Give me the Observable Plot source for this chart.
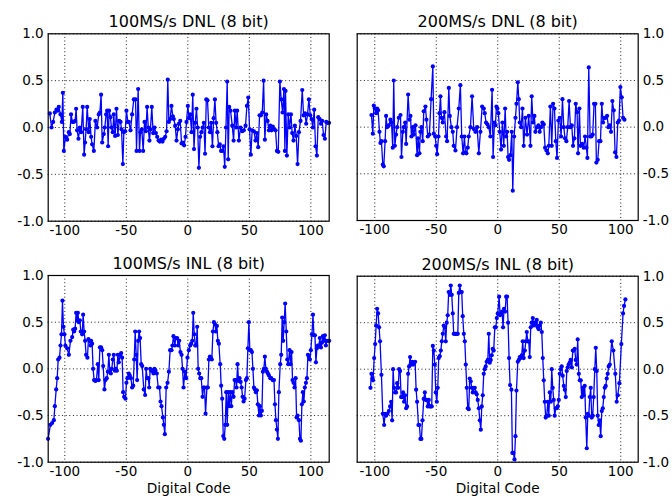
<!DOCTYPE html>
<html><head><meta charset="utf-8">
<script src="https://cdn.jsdelivr.net/npm/d3@7"></script>
<script src="https://cdn.jsdelivr.net/npm/@observablehq/plot@0.6"></script>
<style>
html,body{margin:0;padding:0;background:#fff;}
#chart{position:relative;width:672px;height:496px;overflow:hidden;background:#fff;}
#chart > svg{position:absolute;}
</style></head><body><div id="chart"></div>
<script>
const xTicks = [-100, -50, 0, 50, 100];
const yTicks = [-1, -0.5, 0, 0.5, 1];
const titles = ["100MS/s DNL (8 bit)", "200MS/s DNL (8 bit)", "100MS/s INL (8 bit)", "200MS/s INL (8 bit)"];
const xLabel = "Digital Code";

// [digital code, LSB]
const dnl100 = [[-112.2,0.15],[-110.8,0.0],[-109.5,0.06],[-108.1,0.16],[-106.8,0.19],[-105.7,0.18],[-104.9,0.22],[-103.5,0.14],[-102.4,0.06],[-101.6,0.37],[-100.8,-0.25],[-99.5,-0.1],[-98.1,-0.13],[-96.7,-0.05],[-95.9,-0.07],[-94.9,0.14],[-93.8,0.06],[-92.7,0.06],[-91.6,0.07],[-90.8,0.2],[-90,-0.03],[-88.9,-0.12],[-87.8,0],[-86.7,-0.05],[-85.4,0.22],[-84.3,-0.29],[-83.5,-0.16],[-82.7,-0.02],[-81.8,0.22],[-80.5,-0.05],[-79.7,0.09],[-78.6,-0.1],[-77.8,-0.18],[-76.4,-0.25],[-75.1,0.07],[-73.7,0],[-72.4,0.14],[-71.5,0.16],[-70.5,0.35],[-69.6,-0.16],[-68.3,-0.07],[-67.5,0],[-66.4,0.14],[-65.6,0.18],[-64.8,-0.2],[-64,0.18],[-62.9,0.11],[-62.1,0],[-61,-0.05],[-60.2,0.14],[-59.1,-0.09],[-58,0.2],[-56.9,-0.08],[-55.8,0.07],[-54.7,0.06],[-53.9,-0.02],[-52.8,-0.39],[-52,-0.05],[-50.9,-0.04],[-49.9,0.18],[-48.8,0.06],[-48,0.06],[-46.6,-0.03],[-45.3,0.14],[-43.9,0.3],[-42.5,0.3],[-41.7,-0.25],[-40.4,0.41],[-39.3,-0.25],[-38.5,-0.05],[-37.4,-0.02],[-36.3,-0.25],[-35.2,0.06],[-34.1,-0.04],[-33.1,0.22],[-32.2,0],[-31.2,-0.14],[-30.4,-0.02],[-29.3,0.22],[-28.2,-0.06],[-27.1,0],[-26,-0.06],[-24.9,-0.1],[-23.8,-0.14],[-22.8,-0.15],[-21.7,-0.13],[-20.6,-0.15],[-19.5,-0.12],[-18.4,-0.1],[-17.3,-0.04],[-16.3,0.51],[-15.4,0.06],[-14.4,0.09],[-13.3,0.23],[-12.2,0.12],[-11.4,0.09],[-10.3,0.02],[-9.2,-0.14],[-8.1,-0.02],[-7.3,0.04],[-6.2,0.07],[-5.1,-0.17],[-4.1,-0.16],[-3,-0.19],[-1.9,-0.1],[-1.1,0.06],[0,0.23],[1,0.1],[2,0.14],[3,-0.05],[4,0.35],[5,-0.23],[6,0.05],[7,0.2],[8,0.0],[9,-0.43],[10,-0.1],[11,-0.05],[12,0.0],[13,0.05],[14,-0.28],[15,0.3],[16,0.29],[17,0.0],[18,-0.05],[19,0.05],[20,-0.2],[21,0.1],[22,0.3],[23,0.05],[24,-0.05],[25,-0.2],[26,-0.18],[27,-0.25],[28,-0.25],[29,-0.2],[30,-0.42],[31,0.0],[32,0.49],[32.8,-0.34],[33.6,0.22],[34.7,0.18],[36.1,0.02],[37.2,-0.14],[38.2,0.18],[39.3,0.0],[40.1,0.18],[41.5,-0.14],[42.8,0.0],[44.2,-0.04],[45.5,-0.03],[46.9,0.02],[48,0.23],[49.1,0.32],[50.2,-0.02],[51.2,-0.29],[52.3,-0.03],[53.7,-0.04],[55,-0.14],[56.1,-0.06],[57.2,-0.21],[58.3,0.13],[59.4,0.13],[60.5,0.16],[61.6,0.5],[62.6,-0.13],[63.7,0.14],[64.8,0.07],[65.9,-0.03],[67,0.02],[68,-0.03],[69.1,0.01],[70.2,-0.02],[71.3,-0.03],[72.4,-0.25],[73.5,-0.26],[74.8,0.49],[75.9,0.3],[77,0.16],[78.1,0.41],[78.9,-0.25],[79.4,0.39],[80.5,-0.3],[81.6,0.14],[82.7,0.0],[83.8,0.14],[84.8,-0.06],[85.9,-0.14],[87,0.02],[88.1,-0.09],[89.2,-0.39],[90.3,-0.05],[91.6,0.07],[93,0.4],[94.1,0.13],[95.2,0.15],[96.2,0.04],[97.3,0.14],[98.4,0.3],[99.5,0.13],[100.6,0.09],[101.6,0.0],[102.7,0.19],[103.8,-0.2],[104.9,-0.3],[106,0.11],[107.1,0.09],[108.2,0.04],[109.2,0.07],[110.3,-0.08],[111.4,-0.12],[112.5,0.06],[113.6,0.05],[114.8,0.05]];

const dnl200 = [[-102.7,0.13],[-101.6,-0.07],[-100.8,0.23],[-100,0.2],[-98.9,0.15],[-98.1,0.2],[-97.3,0.18],[-96.2,-0.05],[-95.4,-0.17],[-94.6,-0.15],[-93.5,-0.4],[-92.7,-0.42],[-91.6,-0.15],[-90.8,0.12],[-90,0.0],[-88.6,0.02],[-87.3,0.08],[-86.4,0.05],[-85.4,-0.22],[-84.6,0.5],[-83.7,-0.2],[-82.7,-0.08],[-81.8,0.0],[-80.5,0.1],[-79.1,0.13],[-78.3,-0.32],[-77.2,-0.05],[-76.4,0.0],[-75.3,0.05],[-74.5,-0.18],[-72.9,0.35],[-71.8,0.08],[-71,0.12],[-70.2,-0.1],[-69.1,0.0],[-68.3,-0.08],[-66.9,0.02],[-65.6,-0.3],[-64.8,-0.12],[-63.7,-0.28],[-62.9,-0.05],[-62.1,0.0],[-61,-0.15],[-60.2,0.17],[-58.8,0.22],[-58,0.08],[-56.9,-0.1],[-55.6,-0.08],[-54.2,0.3],[-52.8,0.65],[-52,-0.07],[-50.9,-0.1],[-50.1,-0.2],[-49.3,-0.29],[-48.2,-0.1],[-47.4,0.15],[-46.6,0.33],[-45.8,0.1],[-44.7,0.05],[-43.4,0.16],[-42,-0.1],[-41.2,-0.15],[-39.8,0.42],[-39,0.12],[-37.7,0.0],[-36.6,-0.05],[-35.8,-0.2],[-34.4,-0.25],[-33.1,0.0],[-31.7,0.2],[-30.4,0.45],[-29.3,-0.1],[-28.2,-0.28],[-27.1,-0.1],[-26.3,-0.27],[-25.5,-0.28],[-24.4,-0.22],[-23.6,-0.1],[-22.2,0.0],[-20.9,0.33],[-19.5,-0.02],[-18.2,-0.05],[-16.8,0.0],[-15.4,-0.28],[-14.1,-0.05],[-12.7,0.22],[-11.4,0.2],[-10.6,0.15],[-9.5,0.05],[-8.4,0.03],[-7.3,0.0],[-6,-0.1],[-4.6,0.4],[-3.8,-0.32],[-2.7,0.05],[-1.9,0.02],[-1.1,0.22],[-0.3,0.2],[0.5,0.15],[1.6,-0.05],[2.7,-0.24],[3.8,0.05],[4.9,-0.2],[6,0.2],[6.8,-0.1],[7.6,-0.05],[8.4,-0.32],[9.2,-0.35],[10.3,-0.3],[11.4,-0.05],[12.2,-0.68],[13.3,-0.1],[14.4,0.1],[15.2,0.25],[16.3,0.48],[17.1,0.3],[17.9,0.05],[19,0.0],[20.1,0.2],[21.1,-0.2],[22.5,0.1],[23.8,-0.08],[25.2,0.12],[26.6,-0.2],[27.6,0.33],[28.7,0.05],[29.8,0.12],[30.6,-0.05],[32,0.0],[33.1,0.02],[34.1,-0.05],[35.2,0.0],[36.3,0.05],[37.4,0.03],[38.5,-0.22],[39.6,-0.25],[40.7,-0.28],[41.5,-0.2],[42.8,0.22],[43.9,-0.2],[45,0.25],[46.1,0.2],[47.2,-0.15],[48.2,-0.33],[49.3,0.07],[50.4,0.1],[51.5,-0.1],[52.6,0.3],[53.7,0.0],[54.7,-0.12],[55.8,-0.15],[56.9,0.0],[58,0.28],[59.1,0.0],[60.2,0.02],[61.2,-0.2],[62.3,-0.12],[63.4,0.25],[64.5,0.16],[65.3,-0.28],[66.4,0.2],[67.2,-0.2],[68.6,-0.18],[69.9,-0.22],[71,-0.1],[72.1,-0.22],[72.9,-0.33],[74,0.64],[75.1,-0.1],[76.2,-0.1],[77.2,-0.08],[78.3,0.25],[79.4,0.25],[80.2,-0.38],[81.3,-0.35],[82.4,-0.15],[83.5,-0.15],[84.6,0.25],[85.6,0.05],[86.7,0.1],[87.8,0.1],[88.9,0.12],[90,0.0],[91.1,0.02],[92.1,-0.05],[93.2,0.28],[94.3,0.18],[95.4,-0.27],[96.5,-0.32],[97.6,0.05],[98.6,0.07],[99.7,0.43],[100.8,0.32],[101.9,0.1],[103,0.08]];

const inl100 = [[-113.6,-0.75],[-111.7,-0.6],[-110.3,-0.58],[-108.9,-0.55],[-108.1,-0.4],[-107,-0.22],[-106.2,-0.1],[-105.4,0.1],[-104.3,0.12],[-103.5,0.25],[-102.7,0.37],[-101.9,0.73],[-101.1,0.45],[-100.3,0.37],[-99.5,0.25],[-98.1,0.22],[-96.7,0.15],[-95.4,0.3],[-94,0.34],[-93.2,0.42],[-92.4,0.4],[-91.6,0.43],[-90.8,0.6],[-90,0.52],[-89.4,0.6],[-88.6,0.5],[-87.8,0.52],[-87,0.4],[-85.9,0.37],[-85.1,0.58],[-84.3,0.4],[-83.5,0.3],[-82.7,0.15],[-81.6,0.12],[-80.8,0.32],[-80,0.3],[-79.1,0.25],[-78.6,0.3],[-77.8,0.27],[-77,0],[-76.2,-0.12],[-75.1,-0.13],[-74.3,-0.12],[-73.2,0.05],[-72.4,-0.12],[-71.5,0.23],[-70.5,0.23],[-69.6,0.2],[-68.8,0.03],[-67.8,-0.22],[-66.9,-0.12],[-65.9,-0.1],[-65,-0.03],[-64.2,0.15],[-63.4,-0.03],[-62.6,-0.05],[-61.8,0],[-61,0.1],[-60.2,0.15],[-59.3,-0.02],[-58.5,0],[-57.7,-0.02],[-56.9,0.15],[-56.1,0.07],[-55,0.15],[-54.2,0.17],[-53.4,0.12],[-52.6,-0.25],[-51.8,-0.3],[-50.7,-0.32],[-49.9,-0.15],[-49.1,-0.1],[-48,-0.05],[-47.2,-0.07],[-46.3,-0.1],[-45.3,-0.2],[-44.4,-0.18],[-43.6,0.1],[-42.8,0.4],[-42,0.15],[-41.2,-0.12],[-40.4,0.3],[-39.6,0.4],[-38.8,0.33],[-37.9,0.05],[-37.1,0.03],[-35.8,-0.22],[-34.7,-0.28],[-33.9,0],[-33.1,-0.1],[-32.2,-0.1],[-31.4,-0.2],[-30.6,0],[-29.8,-0.02],[-29,-0.02],[-27.9,-0.05],[-27.1,0],[-26.3,-0.02],[-25.2,-0.05],[-24.1,-0.2],[-23,-0.2],[-22.2,-0.35],[-21.4,-0.4],[-20.3,-0.52],[-19.5,-0.6],[-18.7,-0.7],[-17.6,-0.2],[-16.5,-0.15],[-15.4,-0.03],[-14.4,0.2],[-13.3,0.2],[-12.5,0.25],[-11.7,0.35],[-10.6,0.25],[-9.8,0.33],[-8.7,0.33],[-7.9,0.25],[-7,0.3],[-6,0.18],[-5.1,0.15],[-4.3,0],[-3.5,-0.2],[-2.4,-0.03],[-1.4,-0.1],[-0.3,0.12],[0.8,0.2],[1.9,0.25],[2.7,0.27],[3.6,0.3],[4.4,0.6],[5.2,0.37],[6,0.25],[6.8,0.25],[7.6,0.45],[8.4,0],[9.2,-0.05],[10.1,-0.1],[10.9,-0.1],[12,-0.3],[12.8,-0.2],[13.6,-0.2],[14.4,-0.48],[15.5,-0.2],[16.3,-0.2],[17.1,0.1],[17.9,0.13],[18.7,0.12],[19.5,0.1],[20.4,0.4],[21.2,0.5],[22,0.48],[22.8,0.4],[23.6,0.46],[24.4,0.3],[25.2,0.27],[26.3,0.05],[27.1,-0.18],[27.9,-0.32],[28.8,-0.72],[29.6,-0.75],[30.4,-0.6],[31.2,-0.25],[32,-0.6],[32.8,-0.25],[33.6,-0.4],[34.4,-0.25],[35.3,-0.4],[36.1,-0.25],[37.2,-0.3],[38,-0.12],[38.8,-0.12],[39.6,-0.2],[40.4,0.05],[41.2,-0.13],[42,-0.1],[42.9,-0.14],[43.7,-0.2],[44.5,-0.3],[45.3,-0.35],[46.1,-0.32],[47.2,-0.12],[48,-0.1],[48.8,0.22],[49.6,0.5],[50.4,0.2],[51.2,0.2],[52.1,0.18],[52.9,0],[53.7,-0.2],[54.5,-0.22],[55.3,-0.25],[56.1,-0.23],[56.9,-0.38],[57.8,-0.5],[58.6,-0.4],[59.4,-0.5],[60.2,-0.45],[61,-0.03],[61.8,0],[62.6,0.13],[63.4,0],[64.3,-0.03],[65.1,-0.05],[65.9,-0.07],[67,-0.1],[67.8,-0.1],[68.9,-0.12],[70,-0.12],[70.8,-0.38],[71.6,-0.55],[72.4,-0.65],[73.2,-0.75],[74,-0.25],[75.1,0.05],[75.9,0.15],[76.7,0.55],[77.5,0.3],[78.3,0.5],[79.1,0.7],[80,0.4],[80.8,0.1],[81.6,0.05],[82.7,0.2],[83.5,0.05],[84.3,0.18],[85.1,-0.12],[85.9,-0.15],[86.7,-0.2],[87.6,-0.1],[88.4,-0.52],[89.2,-0.5],[90.3,-0.55],[91.1,-0.75],[91.9,-0.77],[92.7,-0.38],[93.5,-0.25],[94.3,-0.35],[95.1,-0.2],[96,-0.15],[96.8,-0.1],[97.6,0.15],[98.4,0.13],[99.2,0.1],[100,0.2],[100.9,0.37],[101.7,0.58],[102.5,0.36],[103.3,0.36],[104.1,0.07],[104.9,0.22],[105.7,0.25],[106.5,0.25],[107.3,0.33],[108.2,0.23],[109,0.28],[109.8,0.35],[110.6,0.3],[111.4,0.36],[112.2,0.25],[113,0.3],[114.1,0.3],[114.9,0.3]];

const inl200 = [[-103.5,-0.2],[-102.7,-0.05],[-101.9,-0.1],[-101.4,-0.12],[-100.5,0.12],[-99.7,0.27],[-98.9,0.47],[-98.1,0.65],[-97.3,0.6],[-96.5,0.45],[-95.7,0.3],[-94.6,-0.06],[-93.5,-0.48],[-92.4,-0.6],[-91.6,-0.48],[-90.8,-0.5],[-89.7,-0.48],[-88.6,-0.45],[-87.5,-0.4],[-86.7,-0.35],[-85.9,-0.55],[-85.1,0],[-84.3,-0.2],[-83.5,-0.25],[-82.7,-0.25],[-81.8,-0.15],[-81,-0.2],[-80.2,0],[-79.4,-0.02],[-78.6,-0.3],[-77.8,-0.3],[-77,-0.25],[-76.2,-0.35],[-75.4,-0.28],[-74.5,-0.42],[-73.7,-0.4],[-72.9,-0.05],[-72.1,0.03],[-71.3,0.13],[-70.5,0.05],[-69.6,0.08],[-68.8,0.05],[-68,0.07],[-67.2,0.08],[-66.4,-0.22],[-65.6,-0.35],[-64.5,-0.6],[-63.7,-0.6],[-62.9,-0.75],[-62.1,-0.75],[-61.2,-0.55],[-60.2,-0.32],[-59.3,-0.25],[-58.5,-0.33],[-57.7,-0.33],[-56.9,-0.4],[-56.1,-0.33],[-55.3,-0.4],[-54.5,-0.4],[-53.7,-0.4],[-52.8,0.25],[-52,0.2],[-51.2,0.05],[-50.4,-0.25],[-49.6,-0.35],[-48.8,-0.2],[-48,0.12],[-47.2,0.14],[-46.3,0.2],[-45.5,0.3],[-44.7,0.38],[-43.9,0.47],[-43.1,0.45],[-42.3,0.3],[-41.5,0.5],[-40.7,0.58],[-39.9,0.83],[-39,0.8],[-38.2,0.9],[-37.4,0.8],[-36.6,0.6],[-35.8,0.38],[-35,0.38],[-34.1,0.38],[-33.3,0.38],[-32.5,0.38],[-31.7,0.82],[-30.9,0.9],[-30.1,0.83],[-29.3,0.83],[-28.5,0.57],[-27.6,0.38],[-26.8,0.3],[-26,0.05],[-25.2,-0.2],[-24.4,-0.42],[-23.6,-0.43],[-22.8,-0.1],[-22,-0.13],[-21.1,-0.2],[-20.3,-0.25],[-19.5,-0.2],[-18.7,-0.2],[-17.9,-0.25],[-17.1,-0.27],[-16.3,-0.33],[-15.4,-0.42],[-14.6,-0.55],[-13.8,-0.65],[-13,-0.4],[-12.2,-0.28],[-11.4,-0.05],[-10.6,0],[-9.8,0.03],[-9,0.08],[-8.1,0.1],[-7.3,0.38],[-6.5,0.07],[-5.7,0.1],[-4.9,0.15],[-4.1,0.22],[-3.3,0.2],[-2.4,0.45],[-1.6,0.45],[-0.8,0.55],[0,0.6],[1.1,0.78],[1.9,0.58],[2.7,0.6],[3.5,0.62],[4.3,0.45],[5.1,0.65],[6,0.62],[6.8,0.78],[7.6,0.78],[8.4,0.5],[9.2,0.12],[10,-0.17],[11.1,-0.22],[11.9,-0.9],[12.7,-0.9],[13.6,-0.97],[14.4,-0.72],[15.2,-0.23],[16.3,0.08],[17.1,0.1],[17.9,0.13],[18.7,0.12],[19.5,0.15],[20.3,0.3],[21.1,0.12],[22,0.2],[22.8,0.3],[23.6,0.4],[24.4,0.3],[25.2,0.3],[26,0.13],[26.8,0.45],[27.6,0.5],[28.5,0.55],[29.3,0.47],[30.1,0.5],[30.9,0.48],[31.7,0.53],[32.5,0.45],[33.3,0.43],[34.1,0.47],[35,0.5],[35.8,0.4],[36.6,0.12],[37.4,-0.12],[38.2,-0.35],[39,-0.52],[39.8,-0.5],[40.7,-0.35],[41.5,-0.5],[42.3,-0.25],[43.1,-0.35],[43.9,0],[44.7,-0.2],[45.5,-0.33],[46.3,-0.5],[47.2,-0.42],[48,-0.42],[48.8,-0.4],[49.6,-0.33],[50.4,-0.05],[51.2,0],[52,0.03],[52.8,-0.07],[53.7,-0.18],[54.5,-0.22],[55.3,-0.3],[56.1,-0.02],[56.9,0.02],[57.7,0.05],[58.5,0.07],[59.3,0.1],[60.2,0.02],[61,0.2],[61.8,0.2],[62.6,0.22],[63.4,0.1],[64.2,0.05],[65,0.32],[65.9,-0.05],[66.7,-0.12],[67.5,-0.12],[68.3,-0.3],[69.1,-0.2],[69.9,-0.28],[70.7,-0.18],[71.5,-0.52],[72.4,-0.85],[73.2,-0.48],[74,-0.5],[74.8,-0.3],[75.6,-0.2],[76.4,-0.52],[77.2,-0.5],[78,-0.3],[78.9,0],[79.7,0.23],[80.5,-0.02],[81.3,-0.5],[82.1,-0.6],[82.9,-0.55],[83.7,-0.72],[84.6,-0.45],[85.4,-0.42],[86.2,-0.3],[87,-0.2],[87.8,-0.18],[88.6,-0.1],[89.4,-0.05],[90.2,0.03],[91.1,0.05],[92.7,0.3],[94,0.2],[95.6,-0.05],[96.7,-0.35],[97.6,-0.28],[98.9,-0.15],[100.5,0.27],[101.9,0.6],[102.7,0.68],[103.8,0.75]];

const FONT = "'DejaVu Sans', 'Liberation Sans', sans-serif";

function panel(cfg) {
  const marks = [
    Plot.gridX(xTicks, {stroke: "black", strokeOpacity: 1, strokeWidth: 0.9, strokeDasharray: "1,2.6"}),
    Plot.gridY(yTicks, {stroke: "black", strokeOpacity: 1, strokeWidth: 0.9, strokeDasharray: "1,2.6"}),
    Plot.line(cfg.data, {x: d => d[0], y: d => d[1], stroke: "#0000ff", strokeWidth: 1.3}),
    Plot.dot(cfg.data, {x: d => d[0], y: d => d[1], r: 2.1, fill: "#0000ff"}),
    Plot.frame({stroke: "black", strokeWidth: 1.2}),
    Plot.text([cfg.title], {text: d => d, frameAnchor: "top", dy: -6.5, lineAnchor: "bottom", fontSize: 16, fill: "black"})
  ];
  if (cfg.label) marks.push(Plot.text([xLabel], {text: d => d, frameAnchor: "bottom", dy: 30.5, lineAnchor: "bottom", fontSize: 13.7, fill: "black"}));
  const svg = Plot.plot({
    width: 336, height: 248,
    marginLeft: cfg.mL, marginRight: cfg.mR, marginTop: cfg.mT, marginBottom: cfg.mB,
    x: {domain: cfg.xDomain, ticks: xTicks, tickSize: 0, tickPadding: 4, tickFormat: d => String(d), label: null},
    y: {domain: [-1, 1], ticks: yTicks, tickSize: 0, tickPadding: 4.5, tickFormat: d => d.toFixed(1), label: null, axis: cfg.yAxis},
    style: {fontFamily: FONT, fontSize: "13.5px", background: "transparent", color: "black", overflow: "visible"},
    marks
  });
  svg.style.left = cfg.left + "px";
  svg.style.top = cfg.top + "px";
  document.getElementById("chart").appendChild(svg);
}

panel({data: dnl100, title: titles[0], left: 0, top: 0, mL: 47.7, mR: 7.3, mT: 33.3, mB: 27.3, xDomain: [-113.5, 114.9], yAxis: "left", label: false});
panel({data: dnl200, title: titles[1], left: 336, top: 0, mL: 20.7, mR: 34.3, mT: 33.3, mB: 28, xDomain: [-114.3, 114.2], yAxis: "right", label: false});
panel({data: inl100, title: titles[2], left: 0, top: 248, mL: 47.7, mR: 7.3, mT: 27, mB: 34.3, xDomain: [-113.5, 114.9], yAxis: "left", label: true});
panel({data: inl200, title: titles[3], left: 336, top: 248, mL: 20.7, mR: 34.3, mT: 27.7, mB: 34.3, xDomain: [-114.3, 114.2], yAxis: "right", label: true});
</script></body></html>
